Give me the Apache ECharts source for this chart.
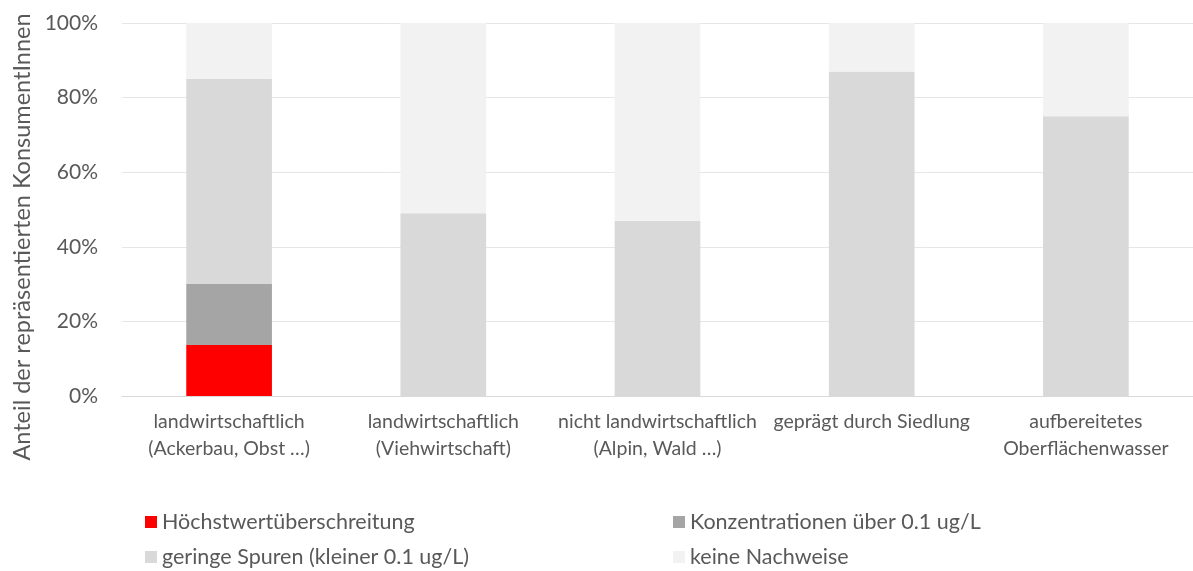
<!DOCTYPE html>
<html>
<head>
<meta charset="utf-8">
<script src="https://cdn.jsdelivr.net/npm/echarts@6/dist/echarts.min.js"></script>
<style>
  html, body { margin: 0; padding: 0; background: #ffffff; }
  #chart { width: 1193px; height: 571px; }
</style>
</head>
<body>
<div id="chart"></div>
<script>
// Herkunft des Trinkwassers (Kategorien der x-Achse)
const categories = [
  'landwirtschaftlich\n(Ackerbau, Obst …)',
  'landwirtschaftlich\n(Viehwirtschaft)',
  'nicht landwirtschaftlich\n(Alpin, Wald …)',
  'geprägt durch Siedlung',
  'aufbereitetes\nOberflächenwasser'
];

// Anteile in Prozent, gestapelt
const hoechstwert = [13.7, 0, 0, 0, 0];
const ueber01 = [16.3, 0, 0, 0, 0];
const geringeSpuren = [55, 49, 47, 87, 75];
const keineNachweise = [15, 51, 53, 13, 25];

const seriesNames = [
  'Höchstwertüberschreitung',
  'Konzentrationen über 0.1 ug/L',
  'geringe Spuren (kleiner 0.1 ug/L)',
  'keine Nachweise'
];
const seriesColors = ['#ff0000', '#a5a5a5', '#d9d9d9', '#f2f2f2'];
const yTicks = [0, 20, 40, 60, 80, 100];
const yAxisTitle = 'Anteil der repräsentierten KonsumentInnen';

const FONT = 'Lato, "Open Sans", sans-serif';
const TEXT = '#595959';

const chart = echarts.init(document.getElementById('chart'), null, { renderer: 'canvas' });

const seriesData = [hoechstwert, ueber01, geringeSpuren, keineNachweise];

// Legend laid out in two columns, two rows
const legendPos = [
  { left: 145, top: 511 },
  { left: 673, top: 511 },
  { left: 145, top: 546 },
  { left: 673, top: 546 }
];

chart.setOption({
  animation: false,
  backgroundColor: '#ffffff',
  textStyle: { fontFamily: FONT, color: TEXT },
  grid: { left: 122, top: 23, width: 1075, height: 373, containLabel: false },
  legend: seriesNames.map(function (name, i) {
    return {
      left: legendPos[i].left,
      top: legendPos[i].top,
      padding: 0,
      itemWidth: 12,
      itemHeight: 12,
      icon: 'rect',
      selectedMode: false,
      textStyle: { fontFamily: FONT, fontSize: 21.5, color: TEXT },
      data: [name]
    };
  }),
  graphic: [{
    type: 'text',
    x: 22,
    y: 237,
    rotation: Math.PI / 2,
    style: {
      text: yAxisTitle,
      fontFamily: FONT,
      fontSize: 23.5,
      fill: TEXT,
      align: 'center',
      verticalAlign: 'middle'
    }
  }],
  xAxis: {
    type: 'category',
    data: categories,
    axisLine: { show: true, lineStyle: { color: '#d9d9d9', width: 1 } },
    axisTick: { show: false },
    axisLabel: {
      color: TEXT,
      fontFamily: FONT,
      fontSize: 19.5,
      lineHeight: 27,
      margin: 12,
      interval: 0
    }
  },
  yAxis: {
    type: 'value',
    min: 0,
    max: 100,
    interval: 20,
    axisLine: { show: false },
    axisTick: { show: false },
    splitLine: { lineStyle: { color: '#e6e6e6', width: 1 } },
    axisLabel: {
      color: TEXT,
      fontFamily: FONT,
      fontSize: 21,
      margin: 24,
      formatter: function (v) { return yTicks.indexOf(v) >= 0 ? v + '%' : ''; }
    }
  },
  series: seriesNames.map(function (name, i) {
    return {
      name: name,
      type: 'bar',
      stack: 'total',
      barWidth: '40%',
      itemStyle: { color: seriesColors[i] },
      data: seriesData[i]
    };
  })
});
</script>
</body>
</html>
